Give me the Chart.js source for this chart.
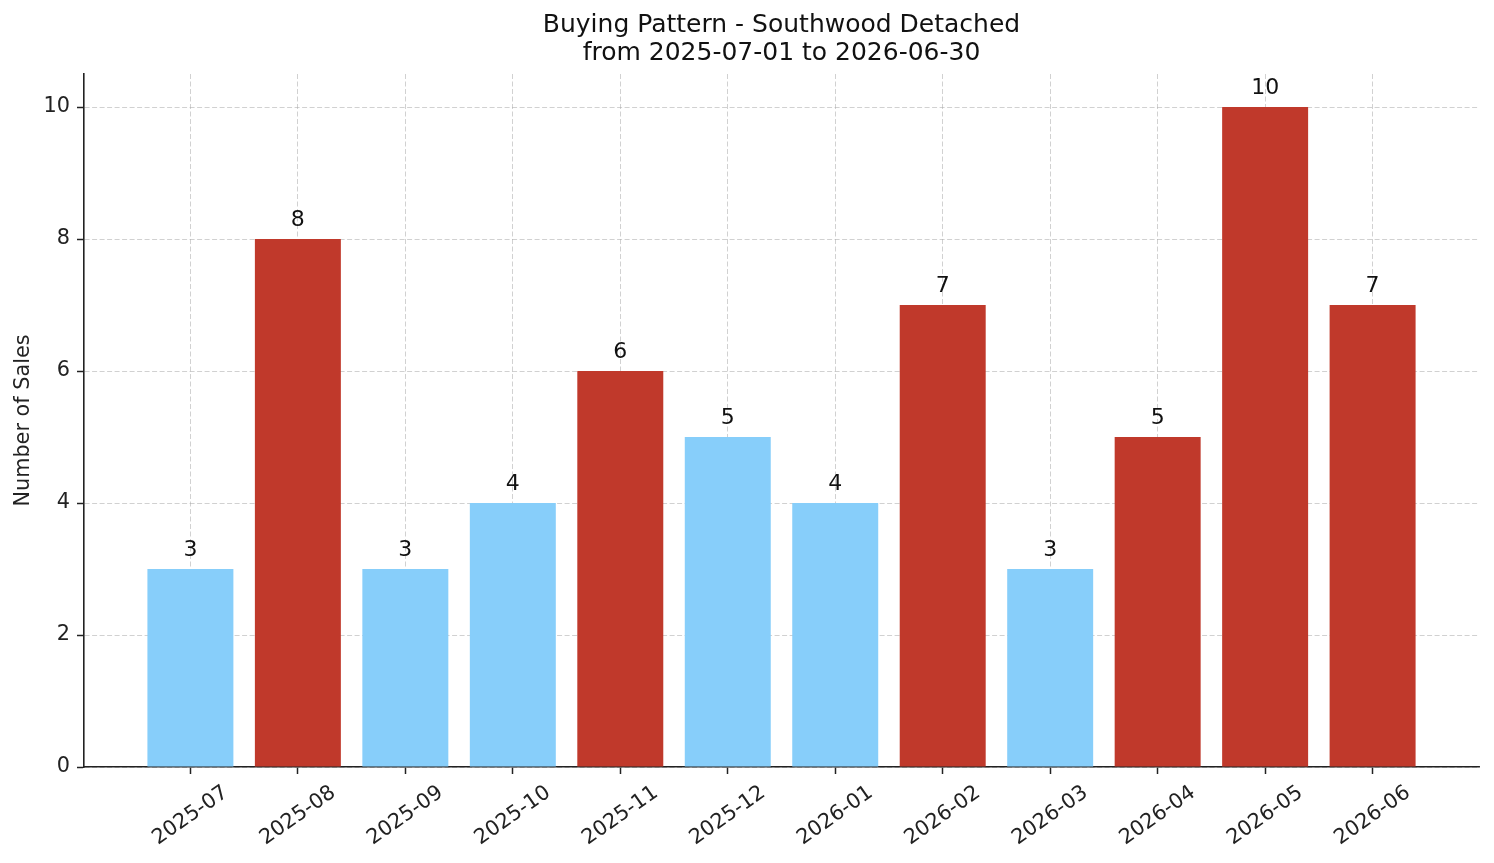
<!DOCTYPE html>
<html>
<head>
<meta charset="utf-8">
<script src="https://cdn.jsdelivr.net/npm/chart.js@4.4.0/dist/chart.umd.min.js"></script>
<style>
  html, body { margin: 0; padding: 0; background: #fff; }
  #wrap { width: 1494px; height: 863px; }
</style>
</head>
<body>
<div id="wrap"><canvas id="chart" width="1494" height="863"></canvas></div>
<script>
var months = ["2025-07", "2025-08", "2025-09", "2025-10", "2025-11", "2025-12",
              "2026-01", "2026-02", "2026-03", "2026-04", "2026-05", "2026-06"];
var sales = [3, 8, 3, 4, 6, 5, 4, 7, 3, 5, 10, 7];
var hot = [0, 1, 0, 0, 1, 0, 0, 1, 0, 1, 1, 1];
var yTicks = [0, 2, 4, 6, 8, 10];

var BLUE = "#87CEFA";
var RED = "#C0392B";
var FONT = "'DejaVu Sans', sans-serif";

var points = [];
for (let i = 0; i < sales.length; i++) {
    points.push({x: i, y: sales[i]});
}

// matplotlib style rotated labels, centred under the tick
var xLabels = {
    id: "xLabels",
    afterDraw: function(chart) {
        let ctx = chart.ctx;
        let sx = chart.scales.x;
        let base = chart.chartArea.bottom + 14;
        let ang = 35 * Math.PI / 180;
        ctx.save();
        ctx.font = "20.8px " + FONT;
        ctx.fillStyle = "#222";
        ctx.textAlign = "center";
        ctx.textBaseline = "middle";
        for (let i = 0; i < months.length; i++) {
            let w = ctx.measureText(months[i]).width;
            let h = 24;
            let H = w * Math.sin(ang) + h * Math.cos(ang);
            ctx.save();
            ctx.translate(sx.getPixelForValue(i), base + H / 2);
            ctx.rotate(-ang);
            ctx.fillText(months[i], 0, 0);
            ctx.restore();
        }
        ctx.restore();
    }
};

var valueLabels = {
    id: "valueLabels",
    afterDraw: function(chart) {
        let ctx = chart.ctx;
        let meta = chart.getDatasetMeta(0);
        ctx.save();
        ctx.font = "22px " + FONT;
        ctx.fillStyle = "#111";
        ctx.textAlign = "center";
        ctx.textBaseline = "alphabetic";
        meta.data.forEach(function(bar, i) {
            ctx.fillText(String(sales[i]), bar.x, bar.y - 13);
        });
        ctx.restore();
    }
};

var gridStyle = {
    offset: false,
    color: "rgba(170,170,170,0.6)",
    lineWidth: 0.9,
    tickColor: "#222",
    tickWidth: 1.5,
    tickLength: 7,
    tickBorderDash: [0, 0]
};
var borderStyle = { display: true, color: "#222", width: 1.6, dash: [5, 2.5] };

var config = {
    type: "bar",
    data: {
        datasets: [{
            data: points,
            backgroundColor: hot.map(function(h) { return h ? RED : BLUE; }),
            borderWidth: 0,
            categoryPercentage: 1,
            barPercentage: 0.8
        }]
    },
    options: {
        responsive: false,
        animation: false,
        layout: { padding: { top: 0, right: 15, bottom: 0, left: 0 } },
        plugins: {
            legend: { display: false },
            tooltip: { enabled: false },
            title: {
                display: true,
                fullSize: false,
                text: ["Buying Pattern - Southwood Detached", "from 2025-07-01 to 2026-06-30"],
                color: "#111",
                font: { family: FONT, size: 25, weight: "normal", lineHeight: 1.12 },
                padding: { top: 11, bottom: 7 }
            }
        },
        scales: {
            x: {
                type: "linear",
                offset: false,
                min: -0.99,
                max: 11.99,
                z: 1,
                grid: gridStyle,
                border: borderStyle,
                ticks: { display: false },
                afterBuildTicks: function(scale) {
                    scale.ticks = months.map(function(m, i) { return {value: i}; });
                },
                afterFit: function(scale) { scale.height = 96; }
            },
            y: {
                min: 0,
                max: 10.5,
                z: 1,
                grid: gridStyle,
                border: borderStyle,
                ticks: {
                    color: "#222",
                    padding: 7,
                    includeBounds: false,
                    font: { family: FONT, size: 20.8 }
                },
                afterBuildTicks: function(scale) {
                    scale.ticks = yTicks.map(function(v) { return {value: v}; });
                },
                title: {
                    display: true,
                    text: "Number of Sales",
                    color: "#222",
                    font: { family: FONT, size: 20.8 },
                    padding: { top: 11, bottom: 0 }
                },
                afterFit: function(scale) { scale.width = 84; }
            }
        }
    },
    plugins: [xLabels, valueLabels]
};

var chart = new Chart(document.getElementById("chart"), config);
</script>
</body>
</html>
